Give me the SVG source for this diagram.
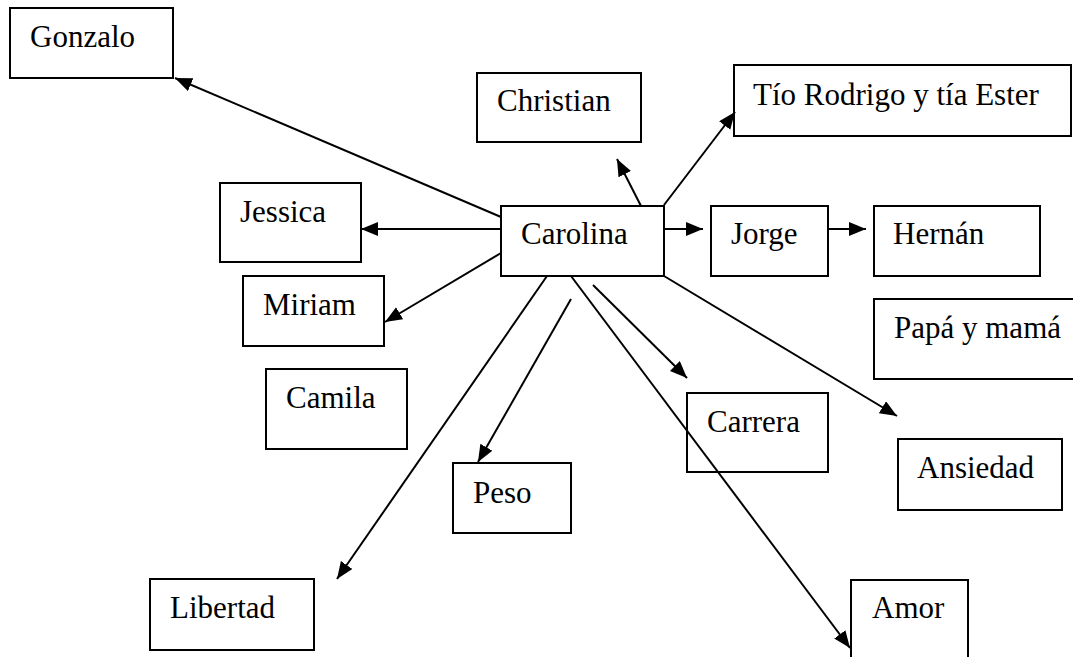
<svg xmlns="http://www.w3.org/2000/svg" width="1073" height="657" viewBox="0 0 1073 657">
<style>
.box{fill:none;stroke:#000;stroke-width:2}
.lbl{font-family:"Liberation Serif","Times New Roman",serif;font-size:31px;fill:#000}
.c{stroke:#000;stroke-width:2;fill:none}
</style>
<defs>
<marker id="ah" markerUnits="userSpaceOnUse" markerWidth="20" markerHeight="16" refX="17" refY="7" orient="auto">
<path d="M0,0 L17,7 L0,14 Z" fill="#000"/>
</marker>
</defs>
<rect width="1073" height="657" fill="#fff"/>
<g id="connectors">
<line class="c" x1="501" y1="217" x2="175" y2="78" marker-end="url(#ah)"/>
<line class="c" x1="641" y1="206" x2="617" y2="159" marker-end="url(#ah)"/>
<line class="c" x1="664" y1="205" x2="735" y2="112" marker-end="url(#ah)"/>
<line class="c" x1="501" y1="229" x2="361" y2="229" marker-end="url(#ah)"/>
<line class="c" x1="501" y1="253" x2="385" y2="322" marker-end="url(#ah)"/>
<line class="c" x1="664" y1="229" x2="703" y2="229" marker-end="url(#ah)"/>
<line class="c" x1="828" y1="229" x2="866" y2="229" marker-end="url(#ah)"/>
<line class="c" x1="664" y1="276" x2="897" y2="416" marker-end="url(#ah)"/>
<line class="c" x1="547" y1="276" x2="337" y2="579" marker-end="url(#ah)"/>
<line class="c" x1="571" y1="299" x2="478" y2="462" marker-end="url(#ah)"/>
<line class="c" x1="571" y1="276" x2="850" y2="648" marker-end="url(#ah)"/>
<line class="c" x1="593" y1="285" x2="687" y2="378" marker-end="url(#ah)"/>
</g>
<g id="gonzalo"><rect class="box" x="10" y="8" width="163" height="70"/><text class="lbl" x="30" y="47">Gonzalo</text></g>
<g id="christian"><rect class="box" x="477" y="73" width="164" height="69"/><text class="lbl" x="497" y="111">Christian</text></g>
<g id="tio"><rect class="box" x="734" y="65" width="337" height="71"/><text class="lbl" x="753" y="105">Tío Rodrigo y tía Ester</text></g>
<g id="jessica"><rect class="box" x="220" y="183" width="141" height="79"/><text class="lbl" x="240" y="222">Jessica</text></g>
<g id="carolina"><rect class="box" x="501" y="206" width="163" height="70"/><text class="lbl" x="521" y="244">Carolina</text></g>
<g id="jorge"><rect class="box" x="711" y="206" width="117" height="70"/><text class="lbl" x="731" y="244">Jorge</text></g>
<g id="hernan"><rect class="box" x="874" y="206" width="166" height="70"/><text class="lbl" x="893" y="244">Hernán</text></g>
<g id="miriam"><rect class="box" x="243" y="276" width="141" height="70"/><text class="lbl" x="263" y="315">Miriam</text></g>
<g id="papa"><rect class="box" x="874" y="299" width="200" height="80"/><text class="lbl" x="894" y="338">Papá y mamá</text></g>
<g id="camila"><rect class="box" x="266" y="369" width="141" height="80"/><text class="lbl" x="286" y="408">Camila</text></g>
<g id="carrera"><rect class="box" x="687" y="393" width="141" height="79"/><text class="lbl" x="707" y="432">Carrera</text></g>
<g id="ansiedad"><rect class="box" x="898" y="439" width="164" height="71"/><text class="lbl" x="917" y="478">Ansiedad</text></g>
<g id="peso"><rect class="box" x="453" y="463" width="118" height="70"/><text class="lbl" x="473" y="503">Peso</text></g>
<g id="libertad"><rect class="box" x="150" y="579" width="164" height="71"/><text class="lbl" x="170" y="618">Libertad</text></g>
<g id="amor"><rect class="box" x="851" y="580" width="117" height="90"/><text class="lbl" x="872" y="618">Amor</text></g>
</svg>
